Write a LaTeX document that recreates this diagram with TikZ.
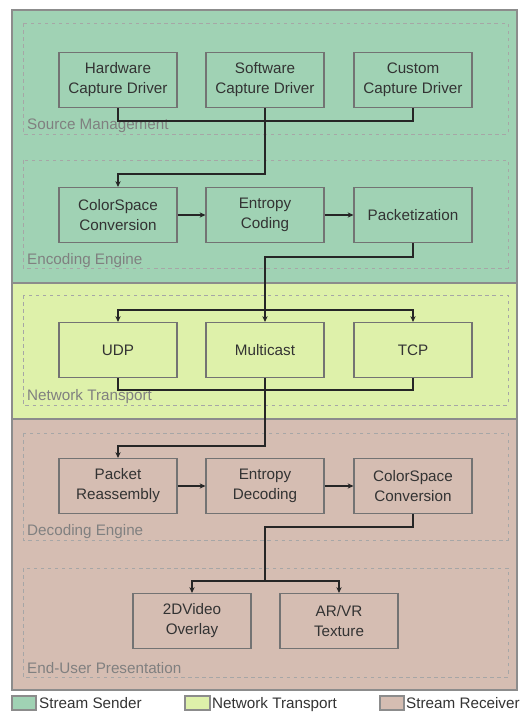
\documentclass[tikz,border=0pt]{standalone}
\usepackage{fontspec}
\setmainfont{Liberation Sans}
\usetikzlibrary{calc}
\usetikzlibrary{arrows.meta}

\definecolor{senderfill}{RGB}{160,210,180}
\definecolor{netfill}{RGB}{222,241,170}
\definecolor{recvfill}{RGB}{213,189,178}

\begin{document}
\begin{tikzpicture}[x=0.03cm,y=-0.03cm,
    layer/.style={draw=black!45,line width=0.9pt},
    group/.style={draw=black!35,dashed,line width=0.7pt},
    grouplabel/.style={anchor=base west,inner sep=0pt,text=black!50,font=\fontsize{13}{15}\selectfont},
    block/.style={draw=black!55,line width=0.9pt,minimum width=3.54cm,minimum height=1.65cm,inner sep=0pt,align=center,text=black!80,font=\fontsize{13}{17}\selectfont},
    link/.style={line width=1.2pt,black!85},
    flow/.style={link,-{Stealth[length=5pt,width=4.5pt]}},
    legendtext/.style={anchor=base west,inner sep=0pt,text=black!80,font=\fontsize{13}{15}\selectfont}]
            % Define the columns and rows
            \def\colA{118}  % left column
            \def\colB{265}  % middle column
            \def\colC{413}  % right column
            \def\left{12}   % layer boundary
            \def\right{517} % layer boundary

            \useasboundingbox (0,0) rectangle (530,712);

            % Draw the layers
            \draw[layer,fill=senderfill] (\left,10) rectangle (\right,283);
            \draw[layer,fill=netfill] (\left,283) rectangle (\right,419);
            \draw[layer,fill=recvfill] (\left,419) rectangle (\right,690);

            % Draw the dashed groups
            \draw[group] (23,23) rectangle (508,134);
            \draw[group] (23,160) rectangle (508,268);
            \draw[group] (23,295) rectangle (508,405);
            \draw[group] (23,433) rectangle (508,540);
            \draw[group] (23,568) rectangle (508,677);

            \node[grouplabel] at (27,130) {Source Management};
            \node[grouplabel] at (27,264) {Encoding Engine};
            \node[grouplabel] at (27,400) {Network Transport};
            \node[grouplabel] at (27,535) {Decoding Engine};
            \node[grouplabel] at (27,673) {End-User Presentation};

            % Draw the blocks
            \node[block] (hw) at (\colA,80) {Hardware\\Capture Driver};
            \node[block] (sw) at (\colB,80) {Software\\Capture Driver};
            \node[block] (cu) at (\colC,80) {Custom\\Capture Driver};

            \node[block] (csc) at (\colA,215) {ColorSpace\\Conversion};
            \node[block] (ec) at (\colB,215) {Entropy\\Coding};
            \node[block] (pk) at (\colC,215) {Packetization};

            \node[block] (udp) at (\colA,350) {UDP};
            \node[block] (mc) at (\colB,350) {Multicast};
            \node[block] (tcp) at (\colC,350) {TCP};

            \node[block] (pr) at (\colA,486) {Packet\\Reassembly};
            \node[block] (ed) at (\colB,486) {Entropy\\Decoding};
            \node[block] (csd) at (\colC,486) {ColorSpace\\Conversion};

            \node[block] (ov) at (192,621) {2DVideo\\Overlay};
            \node[block] (tx) at (339,621) {AR/VR\\Texture};

            % Draw the connectors
            \coordinate (split1) at ($(mc.north)+(0,-12)$);
            \coordinate (split2) at ($(mc.south)+(0,203)$);

            \draw[link] (hw.south) -- ++(0,13) -| (cu.south);
            \draw[flow] (sw.south) -- ++(0,66) -| (csc.north);
            \draw[flow] (csc.east) -- (ec.west);
            \draw[flow] (ec.east) -- (pk.west);

            \draw[link] (pk.south) -- ++(0,14) -| (split1);
            \draw[flow] (split1) -| (udp.north);
            \draw[flow] (split1) -- (mc.north);
            \draw[flow] (split1) -| (tcp.north);

            \draw[link] (udp.south) -- ++(0,12) -| (tcp.south);
            \draw[flow] (mc.south) -- ++(0,68) -| (pr.north);
            \draw[flow] (pr.east) -- (ed.west);
            \draw[flow] (ed.east) -- (csd.west);

            \draw[link] (csd.south) -- ++(0,13) -| (split2);
            \draw[flow] (split2) -| (ov.north);
            \draw[flow] (split2) -| (tx.north);

            % Draw the legend
            \draw[layer,fill=senderfill] (12,696) rectangle (36,710);
            \draw[layer,fill=netfill] (185,696) rectangle (210,710);
            \draw[layer,fill=recvfill] (380,696) rectangle (404,710);
            \node[legendtext] at (39,708) {Stream Sender};
            \node[legendtext] at (212,708) {Network Transport};
            \node[legendtext] at (406,708) {Stream Receiver};
\end{tikzpicture}
\end{document}
